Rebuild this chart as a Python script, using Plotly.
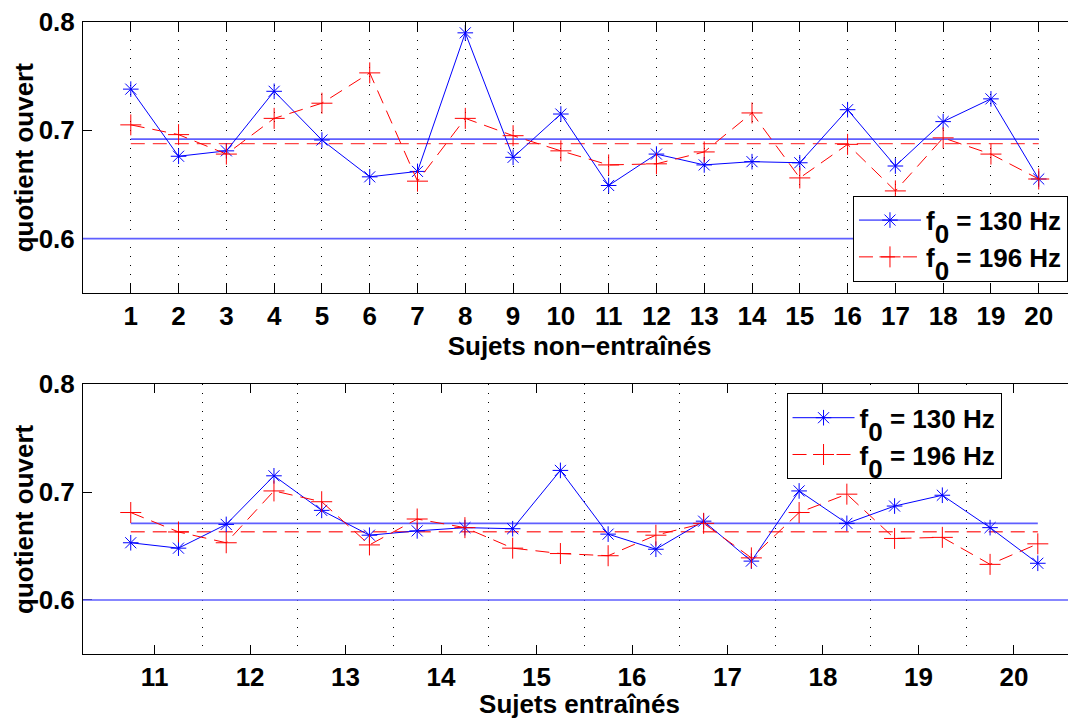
import plotly.graph_objects as go
from plotly.subplots import make_subplots

# ---------------- data ----------------
untrained_subjects = list(range(1, 21))
untrained_130 = [0.738, 0.676, 0.681, 0.736, 0.691, 0.657, 0.662, 0.790, 0.675, 0.715,
                 0.649, 0.678, 0.668, 0.671, 0.670, 0.719, 0.667, 0.708, 0.729, 0.655]
untrained_196 = [0.705, 0.696, 0.678, 0.711, 0.725, 0.753, 0.653, 0.711, 0.695, 0.681,
                 0.668, 0.669, 0.680, 0.716, 0.656, 0.687, 0.644, 0.693, 0.678, 0.655]

trained_ticks = list(range(11, 21))
trained_x = [10.75, 11.25, 11.75, 12.25, 12.75, 13.25, 13.75, 14.25, 14.75, 15.25,
             15.75, 16.25, 16.75, 17.25, 17.75, 18.25, 18.75, 19.25, 19.75, 20.25]
trained_130 = [0.653, 0.648, 0.670, 0.715, 0.683, 0.660, 0.664, 0.667, 0.666, 0.720,
               0.661, 0.647, 0.673, 0.636, 0.701, 0.671, 0.687, 0.697, 0.667, 0.634]
trained_196 = [0.681, 0.663, 0.653, 0.701, 0.691, 0.651, 0.675, 0.667, 0.648, 0.643,
               0.641, 0.660, 0.671, 0.639, 0.681, 0.698, 0.657, 0.658, 0.633, 0.652]
trained_grid = [11.5, 12.5, 13.5, 14.5, 15.5, 16.5, 17.5, 18.5, 19.5]

ref_level = 0.6
y_ticks = [0.6, 0.7, 0.8]
y_title = "quotient ouvert"
SUB = '<span style="font-size:26px;baseline-shift:-13px">0</span>'
label_130 = "f" + SUB + " = 130 Hz"
label_196 = "f" + SUB + " = 196 Hz"

FONT = "Liberation Sans, Arial, Helvetica, sans-serif"
BLUE = "#0000ff"
RED = "#ff0000"
MEAN_BLUE = "rgb(95,95,255)"
MEAN_RED = "rgb(255,70,70)"
DASH = "14px,8px"
FS = 26


def mean(v):
    return sum(v) / len(v)


fig = make_subplots(rows=2, cols=1)


def add_panel(row, x, y130, y196, legend_name):
    fig.add_trace(go.Scatter(x=[x[0], x[-1]], y=[mean(y130)] * 2, mode="lines",
                             line=dict(color=MEAN_BLUE, width=1.7), showlegend=False,
                             hoverinfo="skip"), row=row, col=1)
    fig.add_trace(go.Scatter(x=[x[0], x[-1]], y=[mean(y196)] * 2, mode="lines",
                             line=dict(color=MEAN_RED, width=1.4, dash=DASH), showlegend=False,
                             hoverinfo="skip"), row=row, col=1)
    fig.add_trace(go.Scatter(x=x, y=y130, mode="lines+markers", name=label_130,
                             line=dict(color=BLUE, width=1),
                             marker=dict(symbol="asterisk-open", size=13, color=BLUE,
                                         line=dict(color=BLUE, width=1)),
                             legend=legend_name), row=row, col=1)
    fig.add_trace(go.Scatter(x=x, y=y196, mode="lines+markers", name=label_196,
                             line=dict(color=RED, width=1, dash=DASH),
                             marker=dict(symbol="cross-thin-open", size=15, color=RED,
                                         line=dict(color=RED, width=1)),
                             legend=legend_name), row=row, col=1)
    fig.add_hline(y=ref_level, line=dict(color=MEAN_BLUE, width=1.7), row=row, col=1)


add_panel(1, untrained_subjects, untrained_130, untrained_196, "legend")
add_panel(2, trained_x, trained_130, trained_196, "legend2")

tick_font = dict(family=FONT, size=FS, color="black", weight="bold")
title_font = dict(family=FONT, size=FS, color="black", weight="bold")

common_x = dict(ticks="inside", ticklen=9, tickcolor="black", tickwidth=1,
                showline=True, linecolor="black", linewidth=1, mirror="ticks",
                zeroline=False, tickfont=tick_font, ticklabelstandoff=0,
                automargin=False, ticklabeloverflow="allow")
common_y = dict(ticks="inside", ticklen=9, tickcolor="black", tickwidth=1,
                showline=True, linecolor="black", linewidth=1, mirror=False,
                zeroline=False, showgrid=False, tickfont=tick_font,
                range=[0.55, 0.8], tickvals=y_ticks, ticktext=["0.6", "0.7", "0.8"],
                ticklabelstandoff=2, automargin=False, ticklabeloverflow="allow")

fig.update_xaxes(row=1, col=1, range=[0, 20.78], tickvals=untrained_subjects,
                 showgrid=True, griddash="1px,8px", gridcolor="black", gridwidth=1,
                 title=dict(text="Sujets non\u2212entraînés", font=title_font, standoff=0),
                 domain=[0, 1], **common_x)
fig.update_xaxes(row=2, col=1, range=[10.25, 20.65], tickvals=trained_ticks,
                 showgrid=False,
                 minor=dict(tickvals=trained_grid, showgrid=True, griddash="1px,8px",
                            gridcolor="black", gridwidth=1, ticks=""),
                 title=dict(text="Sujets entraînés", font=title_font, standoff=0),
                 domain=[0, 1], **common_x)
fig.update_yaxes(row=1, col=1, domain=[0.5717, 1.0], **common_y)
fig.update_yaxes(row=2, col=1, domain=[0.0, 0.4272], **common_y)

for xref, yref in (("x domain", "y domain"), ("x2 domain", "y2 domain")):
    fig.add_annotation(text=y_title, xref=xref, yref=yref, x=0, y=0.5,
                       xanchor="center", yanchor="middle", xshift=-59, textangle=-90,
                       showarrow=False, font=title_font)

legend_common = dict(xanchor="left", yanchor="top", bgcolor="white",
                     bordercolor="black", borderwidth=1,
                     font=dict(family=FONT, size=FS, color="black", weight="bold"),
                     itemwidth=62, tracegroupgap=0, entrywidth=213)
# page has an 8px body margin: figure is sized so the plot fills the 1076x719 window
fig.update_layout(
    width=1068, height=711,
    margin=dict(l=75, r=0, t=14, b=65, autoexpand=False),
    paper_bgcolor="white", plot_bgcolor="white",
    showlegend=True,
    legend=dict(x=0.7754, y=0.7252, **legend_common),
    legend2=dict(x=0.7085, y=0.4125, **legend_common),
)

fig.write_html("out.html")
